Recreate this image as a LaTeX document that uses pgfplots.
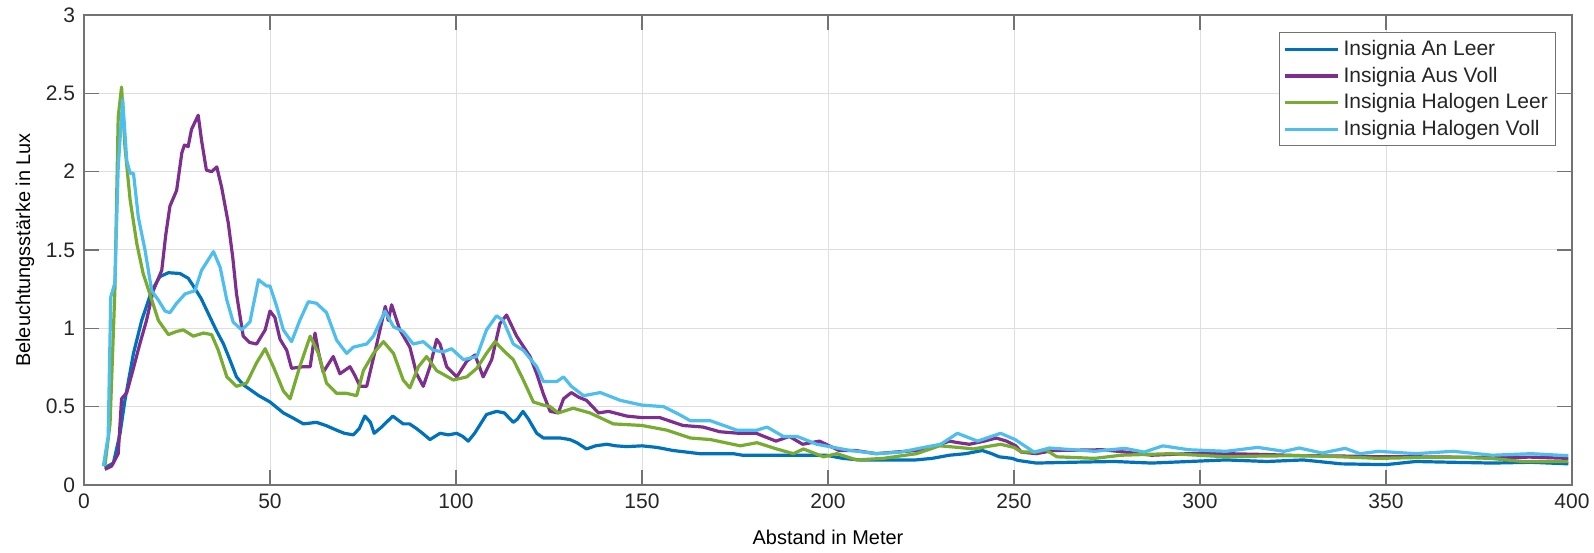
\documentclass[border=0pt]{standalone}
\usepackage{fontspec}
\setmainfont{Liberation Sans}
\usepackage{pgfplots}
\pgfplotsset{compat=1.18}
\definecolor{mblue}{rgb}{0,0.447,0.741}
\definecolor{mpurple}{rgb}{0.494,0.184,0.556}
\definecolor{mgreen}{rgb}{0.466,0.674,0.188}
\definecolor{mcyan}{rgb}{0.301,0.745,0.933}
\definecolor{axcol}{rgb}{0.45,0.45,0.45}
\definecolor{txtcol}{rgb}{0.15,0.15,0.15}
\begin{document}
\begin{tikzpicture}
\begin{axis}[
  scale only axis, width=744bp, height=235bp,
  xmin=0, xmax=400, ymin=0, ymax=3,
  xtick={0,50,...,400}, ytick={0,0.5,...,3},
  yticklabels={0,0.5,1,1.5,2,2.5,3},
  /pgf/number format/assume math mode=true,
  tick label style={font=\fontsize{10.5bp}{12bp}\selectfont, text=txtcol},
  label style={font=\fontsize{11.6bp}{13bp}\selectfont, text=txtcol},
  xlabel={Abstand in Meter},
  ylabel={Beleuchtungsstärke in Lux},
  every axis x label/.style={at={(axis description cs:0.5,-0.111)},anchor=center},
  every axis y label/.style={at={(axis description cs:-0.0397,0.5)},rotate=90,anchor=center},
  grid=major, major grid style={color=black!13, line width=0.5bp},
  axis line style={color=axcol, line width=0.6bp},
  tick style={color=axcol, line width=0.6bp},
  tick align=inside, tick pos=both, major tick length=7.5bp,
  xticklabel style={yshift=-1bp},
  yticklabel style={xshift=-1bp},
  legend cell align=left,
  legend image code/.code={\draw[#1] (0bp,0bp) -- (26.5bp,0bp);},
  legend style={at={(rel axis cs:1,1)}, anchor=north east, xshift=-8bp, yshift=-8.5bp,
     draw=axcol, line width=0.6bp, font=\fontsize{10.5bp}{12bp}\selectfont, text=txtcol,
     inner sep=2bp, row sep=0.6bp,
     nodes={inner sep=1.8bp}},
  every axis plot/.append style={line width=1.6bp, line join=round},
]
\addplot[mblue] table {
5.6 0.11
7.9 0.14
9.7 0.33
11 0.54
13.3 0.84
15.5 1.05
18.2 1.24
20.4 1.33
22.7 1.355
25.8 1.35
28 1.32
29.4 1.27
31.5 1.19
33.9 1.07
35.5 0.99
37.5 0.90
39.2 0.80
41 0.69
42.8 0.64
44.6 0.61
47 0.57
50 0.53
53.6 0.46
56 0.43
59 0.39
62.5 0.40
65 0.38
67.9 0.35
70 0.33
72.4 0.32
74 0.36
75.5 0.44
77 0.40
78 0.33
80 0.37
83 0.44
85.8 0.39
87.5 0.39
89.4 0.36
91 0.33
93 0.29
95.7 0.33
98 0.32
100.2 0.33
101.8 0.31
103.3 0.28
105 0.33
108.2 0.45
110.9 0.47
113 0.46
115.4 0.40
116.5 0.42
118 0.47
119.5 0.42
121.7 0.33
123.5 0.30
125.3 0.30
128 0.30
130.6 0.29
132.5 0.27
135.1 0.23
137.5 0.25
140.5 0.26
143 0.25
145.9 0.245
150 0.25
154 0.24
158.4 0.22
162 0.21
165.5 0.20
170 0.20
174.5 0.20
177 0.19
180.7 0.19
185 0.19
190 0.19
195 0.19
199.5 0.19
204 0.17
208.4 0.16
215 0.16
223.6 0.16
228 0.17
232.6 0.19
237 0.20
241.5 0.22
244 0.20
246 0.18
249.5 0.17
251 0.157
256 0.14
265 0.145
277 0.15
287 0.14
297 0.15
307 0.16
318 0.15
327.7 0.16
338 0.135
350 0.13
358 0.15
368 0.145
378.6 0.14
389 0.145
399 0.135
};
\addlegendentry{Insignia An Leer}
\addplot[mpurple] table {
5.6 0.10
7.4 0.12
9.2 0.20
10.1 0.55
11.5 0.59
13 0.72
15 0.90
16.8 1.05
18.6 1.24
20.9 1.37
22 1.60
23.1 1.78
24.9 1.88
26.3 2.12
27 2.17
28 2.16
28.9 2.27
30.7 2.36
31.6 2.20
32.9 2.01
34.3 2.00
35.7 2.03
37 1.90
38.8 1.67
40 1.45
41 1.22
42.8 0.95
44.5 0.91
46.4 0.90
48.7 0.99
50 1.11
51.3 1.07
52.7 0.93
54.5 0.86
55.8 0.745
59 0.755
60.8 0.755
62.1 0.97
63 0.85
64.3 0.72
67 0.82
68.8 0.71
71.5 0.755
72.8 0.70
74.2 0.63
76 0.63
78.7 0.90
81 1.14
81.8 1.05
82.7 1.15
84.9 0.99
87.6 0.88
89.4 0.71
91.2 0.63
93 0.755
94.8 0.93
95.7 0.90
97.5 0.755
100.2 0.69
102.9 0.79
105.1 0.83
107.3 0.69
109.6 0.80
111.8 1.03
113.6 1.085
116.3 0.95
119.9 0.82
121.7 0.71
123.5 0.58
125.3 0.47
127.5 0.46
128.9 0.55
131 0.59
133 0.56
135.1 0.54
138.3 0.46
141 0.47
145.9 0.44
150 0.43
154.8 0.43
161 0.38
166.4 0.37
170.9 0.34
176 0.33
180.7 0.33
186 0.28
189.6 0.31
193.2 0.26
197.7 0.28
203 0.22
207.5 0.22
212.9 0.20
218 0.21
223.6 0.22
228 0.24
232.6 0.28
235 0.27
238 0.26
242 0.28
245.2 0.30
248 0.28
250.5 0.25
252 0.21
256 0.20
260.5 0.22
273.7 0.225
280 0.21
287 0.19
297 0.20
307 0.20
317 0.195
327.7 0.187
338 0.185
348 0.18
358 0.18
368 0.178
378 0.175
388.8 0.178
399 0.17
};
\addlegendentry{Insignia Aus Voll}
\addplot[mgreen] table {
5.6 0.12
7 0.39
8.3 1.24
9.2 2.35
10.1 2.54
11 2.16
12.4 1.82
14.2 1.54
15.9 1.35
17.7 1.22
20 1.05
22.7 0.96
24.9 0.98
26.7 0.99
29.4 0.95
32.1 0.97
34.3 0.96
36.1 0.86
38.4 0.69
41 0.63
43.7 0.65
46.4 0.78
48.7 0.87
50.9 0.755
53.6 0.60
55.4 0.55
58 0.755
60.8 0.95
63 0.84
65.2 0.65
67.9 0.585
70.6 0.585
73.3 0.57
75.1 0.73
77.8 0.84
80.5 0.915
83.2 0.84
85.8 0.67
87.6 0.62
89.9 0.755
92.1 0.82
94.8 0.73
99.3 0.67
102.9 0.69
105.6 0.745
108.2 0.84
110.5 0.915
112.7 0.86
115.4 0.80
118.1 0.67
120.8 0.53
123.5 0.51
125.3 0.50
127.5 0.46
131.5 0.49
136 0.46
142.3 0.39
150 0.38
156.7 0.35
163 0.30
168.4 0.29
176.4 0.25
180.9 0.27
186.2 0.23
190.7 0.20
193.4 0.23
198.8 0.18
202.4 0.20
207.7 0.16
214.9 0.17
223.8 0.20
230 0.25
235 0.24
239 0.23
246.4 0.26
250 0.24
252 0.21
256 0.21
258.5 0.225
261.5 0.18
271.7 0.17
278.8 0.19
292 0.20
307 0.18
317 0.185
327.7 0.187
338 0.18
348 0.17
358 0.175
368 0.178
378 0.17
386.8 0.15
399 0.15
};
\addlegendentry{Insignia Halogen Leer}
\addplot[mcyan] table {
5.2 0.12
6.5 0.31
7.2 1.20
8.3 1.29
9.2 2.03
10.4 2.46
11.5 2.07
12.4 1.99
13.3 1.99
14.6 1.71
16.4 1.50
18.2 1.24
20 1.18
21.8 1.11
23.1 1.10
24.9 1.16
27.2 1.22
29.8 1.24
31.6 1.37
34.8 1.49
36.6 1.39
38.4 1.18
40.1 1.04
42.4 0.99
44.6 1.04
46.9 1.31
49.1 1.27
50 1.27
51.8 1.14
53.6 0.99
55.8 0.915
58 1.05
60.3 1.17
62.5 1.16
65.2 1.10
67.9 0.925
70.6 0.84
72.4 0.88
76 0.90
77.8 0.95
80.9 1.11
83.2 1.01
85.8 0.98
88.5 0.90
91.2 0.915
93.9 0.86
96.6 0.85
98.8 0.87
102 0.80
105.6 0.82
108.2 0.99
110.9 1.08
112.7 1.05
115.4 0.90
118.1 0.86
121.7 0.755
123.5 0.66
127.1 0.66
128.9 0.69
131 0.63
134.3 0.57
138.8 0.59
144.2 0.54
150 0.51
155.8 0.50
160 0.45
163 0.41
168.4 0.41
175.5 0.35
180.9 0.35
183.6 0.37
188 0.31
191.7 0.31
197 0.26
206 0.22
213.2 0.20
219.5 0.21
225.8 0.24
230.3 0.26
234.8 0.33
240.2 0.28
246.4 0.33
250.3 0.29
255.4 0.21
259.5 0.236
271.7 0.215
279.8 0.234
285 0.21
290 0.25
297 0.225
307 0.215
315.5 0.24
322.6 0.215
326.7 0.236
332.8 0.204
339 0.234
343 0.20
348 0.215
358 0.20
368 0.215
378.6 0.19
389 0.20
399 0.187
};
\addlegendentry{Insignia Halogen Voll}
\end{axis}
\pgfresetboundingbox
\path (current axis.south west) ++(-42bp,-34bp) rectangle ++(797bp,276.5bp);
\end{tikzpicture}
\end{document}
